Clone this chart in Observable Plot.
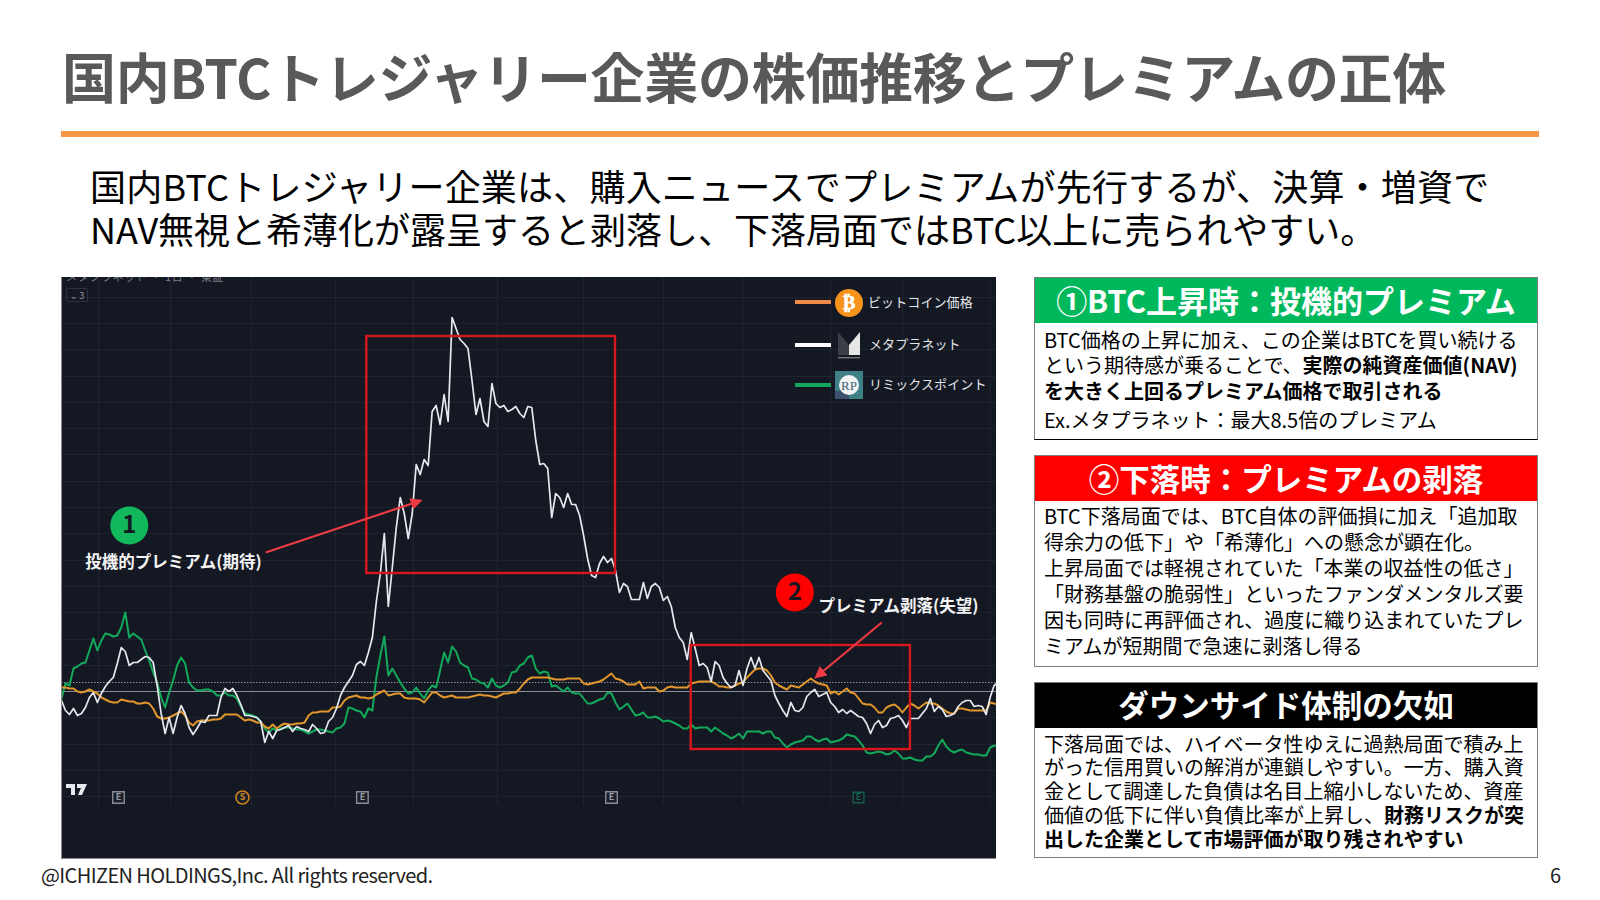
<!DOCTYPE html>
<html lang="ja"><head><meta charset="utf-8">
<script src="https://cdn.jsdelivr.net/npm/d3@7"></script>
<script src="https://cdn.jsdelivr.net/npm/@observablehq/plot@0.6"></script>
<style>
html,body{margin:0;padding:0;background:#fff}
body{width:1600px;height:900px;position:relative;overflow:hidden;font-family:"Noto Sans CJK JP","Noto Sans",sans-serif;color:#000}
.abs{position:absolute;white-space:nowrap}
#title{left:62px;top:38px;font-size:54px;font-weight:700;color:#595959;line-height:76px;letter-spacing:-.3px}
#rule{left:61px;top:131px;width:1478px;height:6px;background:#f79646}
.lead{left:90px;font-size:36px;line-height:44px;font-weight:400}
#chartwrap{position:absolute;left:61px;top:277px;width:935px;height:582px;border-bottom:1px solid #888;box-sizing:border-box;background:#141823;overflow:hidden}
#chartwrap svg{display:block}
.panel{position:absolute;left:1034px;width:504px;box-sizing:border-box;border:1px solid #7f7f7f;background:#fff;overflow:hidden}
.head{position:absolute;left:-1px;right:-1px;top:-1px;height:46px;color:#fff;font-weight:700;line-height:46px;text-align:center;white-space:nowrap}
.bl{position:absolute;left:9px;font-size:20px;line-height:26px;white-space:nowrap}
.bl b{font-weight:700}
.leg{position:absolute;font-size:13px;color:#e4e6ea;line-height:18px;white-space:nowrap;letter-spacing:.1px}
.sw{position:absolute;height:4px;width:36px}
#foot{left:41px;top:861px;font-size:20px;line-height:28px;color:#222;letter-spacing:-.6px}
#pg{left:1550px;top:861px;font-size:20px;line-height:28px;color:#222}
</style></head>
<body>
<div class="abs" id="title"></div>
<div class="abs" id="rule"></div>
<div class="abs lead" id="l1" style="top:163px;letter-spacing:.2px"></div>
<div class="abs lead" id="l2" style="top:206px"></div>
<div id="chartwrap"></div>
<div id="panels"></div>
<div class="abs" id="foot"></div>
<div class="abs" id="pg"></div>
<script>
const titleText = "国内BTCトレジャリー企業の株価推移とプレミアムの正体";
const leadLines = ["国内BTCトレジャリー企業は、購入ニュースでプレミアムが先行するが、決算・増資で","NAV無視と希薄化が露呈すると剥落し、下落局面ではBTC以上に売られやすい。"];
const footText = "@ICHIZEN HOLDINGS,Inc. All rights reserved.";
const pageNo = "6";

const metaplanet = [-9,-19,-23,-17,-24,-22,-16,-6,-1,-11,-2,5,10,14,28,44,40,26,29,29,32,35,34,29,6,-22,-42,-26,-42,-26,-14,-22,-36,-43,-37,-30,-31,-24,-24,-24,-6,3,0,3,-4,-13,-24,-24,-25,-26,-30,-51,-40,-47,-39,-38,-36,-34,-40,-35,-37,-38,-40,-33,-37,-42,-41,-30,-26,-17,-4,4,10,16,27,30,26,39,54,90,118,158,85,124,164,194,178,153,178,227,217,232,226,280,286,267,297,270,374,363,352,348,343,311,277,293,270,265,308,288,284,286,280,282,285,278,274,285,284,251,227,228,223,174,198,194,184,198,187,187,176,156,133,116,114,128,135,129,133,121,99,108,105,92,92,92,109,93,105,108,104,91,95,85,64,54,49,32,59,43,26,28,24,10,30,26,14,8,4,6,21,6,23,34,23,34,21,16,11,-4,-12,-19,-25,-11,-19,-20,-16,-5,-1,2,-5,-3,-1,-11,-15,-21,-18,-22,-19,-22,-25,-26,-32,-42,-33,-29,-36,-34,-27,-26,-24,-29,-36,-27,-27,-27,-22,-17,-7,-20,-15,-18,-25,-24,-22,-15,-11,-9,-9,-15,-14,-15,-23,-6,6,9];
const bitcoin = [4,4,3,3,0,-1,0,2,0,-2,-6,-8,-10,-11,-11,-8,-9,-10,-10,-12,-12,-11,-12,-17,-25,-27,-27,-26,-24,-22,-20,-24,-31,-34,-30,-29,-29,-29,-28,-28,-27,-23,-23,-23,-23,-26,-29,-28,-29,-31,-31,-35,-37,-33,-37,-34,-32,-33,-33,-32,-32,-31,-24,-21,-21,-20,-20,-20,-16,-16,-15,-9,-6,-5,-4,-6,-6,-7,-6,-3,-1,1,-4,-3,-2,-2,-6,-7,-7,-7,-8,-11,-6,-1,-1,-4,-6,-5,-4,-6,-6,-6,-6,-5,-4,-3,-4,-4,-5,-6,-4,-2,-2,-1,-1,3,8,12,14,14,14,14,14,13,12,12,12,13,13,13,13,8,7,8,9,10,12,15,18,13,12,10,7,7,7,10,3,4,4,4,0,1,4,5,4,4,4,4,8,9,10,10,10,10,8,5,5,4,4,6,8,9,14,18,22,23,23,21,16,9,6,4,2,6,5,4,7,10,13,10,8,7,6,-2,0,-3,0,3,-1,-2,-7,-12,-13,-13,-16,-21,-21,-16,-14,-13,-16,-21,-16,-12,-14,-17,-14,-11,-12,-12,-14,-17,-20,-22,-22,-17,-17,-18,-19,-19,-19,-19,-19,-11,-12,-13];
const remixpoint = [-7,8,6,23,25,28,29,41,53,41,51,58,57,55,56,64,79,54,58,55,52,41,31,19,9,-6,-16,-1,11,26,34,28,9,4,1,1,2,2,0,-4,-4,-1,-4,-4,-7,-15,-22,-23,-24,-26,-30,-37,-41,-37,-39,-37,-36,-36,-37,-38,-38,-40,-42,-40,-38,-38,-39,-40,-41,-37,-36,-32,-16,-17,-19,-20,-26,-17,-19,14,36,55,16,23,16,9,3,-2,-1,4,-2,-7,1,6,4,21,39,29,45,40,29,26,24,13,12,9,8,4,13,6,4,6,9,19,20,26,28,34,36,23,18,20,19,5,6,3,0,4,-1,-2,-2,-7,-12,-12,-10,-8,-7,-1,-2,-11,-18,-15,-12,-18,-24,-23,-21,-26,-26,-25,-27,-30,-29,-30,-32,-34,-37,-37,-33,-37,-36,-36,-36,-40,-36,-39,-42,-44,-47,-45,-42,-47,-40,-40,-40,-40,-42,-40,-40,-46,-47,-52,-56,-53,-51,-50,-49,-45,-45,-48,-50,-48,-47,-51,-50,-49,-47,-43,-44,-45,-49,-54,-61,-62,-61,-60,-61,-63,-62,-59,-62,-67,-67,-66,-68,-69,-69,-65,-65,-62,-54,-48,-55,-59,-61,-59,-58,-61,-62,-63,-63,-64,-64,-56,-54,-55];

const gridXs = [9.3,27.4,47.7,68.8,88.3,109.4,131,151,171,193,211,233];
const gridYs = [394,368,342,315,289,263,237,210,184,158,131,105,79,52,26,-26,-53,-79,-105];
const premiumBoxes = [{x1:76.6,x2:139,y1:355,y2:118},{x1:158,x2:213,y1:46,y2:-58}];
const callArrows = [{x1:51.2,y1:139,x2:88,y2:188},{x1:205.8,y1:69,x2:191,y2:20}];
const badges = [{x:17,y:166,c:"#12b85c",t:"1"},{x:184,y:99,c:"#ff0000",t:"2"}];
const callouts = [{x:28.1,y:129,t:"投機的プレミアム(期待)"},{x:210,y:85,t:"プレミアム剥落(失望)"}];
const earnE = [14.3,75.5,138];
const splitS = [45.4];
const earnGreen = [200];
const markerY = -106;
const baseY = 0, prevCloseY = 9;

const panelSpecs = [
 {top:277,h:163,c:"#00b85c",fs:31,bb:"#000",hs:0,title:"①BTC上昇時：投機的プレミアム",tops:[49,74,100,129],lines:["BTC価格の上昇に加え、この企業はBTCを買い続ける","という期待感が乗ることで、<b>実際の純資産価値(NAV)</b>","<b>を大きく上回るプレミアム価格で取引される</b>","Ex.メタプラネット：最大8.5倍のプレミアム"]},
 {top:455,h:212,c:"#ff0000",fs:30.5,bb:"#7f7f7f",hs:0,title:"②下落時：プレミアムの剥落",tops:[47,73,99,125,151,177],lines:["BTC下落局面では、BTC自体の評価損に加え「追加取","得余力の低下」や「希薄化」への懸念が顕在化。","上昇局面では軽視されていた「本業の収益性の低さ」","「財務基盤の脆弱性」といったファンダメンタルズ要","因も同時に再評価され、過度に織り込まれていたプレ","ミアムが短期間で急速に剥落し得る"]},
 {top:682,h:176,c:"#000000",fs:30.5,bb:"#7f7f7f",hs:-1,title:"ダウンサイド体制の欠如",tops:[48,71,95,119,143],lines:["下落局面では、ハイベータ性ゆえに過熱局面で積み上","がった信用買いの解消が連鎖しやすい。一方、購入資","金として調達した負債は名目上縮小しないため、資産","価値の低下に伴い負債比率が上昇し、<b>財務リスクが突</b>","<b>出した企業として市場評価が取り残されやすい</b>"]}
];

document.getElementById("title").textContent = titleText;
document.getElementById("l1").textContent = leadLines[0];
document.getElementById("l2").textContent = leadLines[1];
document.getElementById("foot").textContent = footText;
document.getElementById("pg").textContent = pageNo;

const pan = document.getElementById("panels");
for (const p of panelSpecs) {
  const d = document.createElement("div");
  d.className = "panel";
  d.style.top = p.top + "px";
  d.style.height = p.h + "px";
  d.style.borderBottomColor = p.bb;
  let h = `<div class="head" style="background:${p.c};font-size:${p.fs}px;line-height:${46 + 2 * p.hs}px">${p.title}</div>`;
  p.lines.forEach((l, i) => { h += `<div class="bl" style="top:${p.tops[i]}px">${l}</div>`; });
  d.innerHTML = h;
  pan.appendChild(d);
}

const jp = '"Noto Sans CJK JP","Noto Sans",sans-serif';
const idx = a => a.map((v, i) => ({i, v}));
/* filled triangular arrow head for the two call-outs */
function solidHead(color, context) {
  const doc = context.document;
  const m = doc.createElementNS("http://www.w3.org/2000/svg", "marker");
  m.setAttribute("viewBox", "0 0 10 10");
  m.setAttribute("refX", "1");
  m.setAttribute("refY", "5");
  m.setAttribute("markerWidth", "5.5");
  m.setAttribute("markerHeight", "5.5");
  m.setAttribute("orient", "auto");
  m.setAttribute("markerUnits", "strokeWidth");
  const p = doc.createElementNS("http://www.w3.org/2000/svg", "path");
  p.setAttribute("d", "M0 0L10 5L0 10Z");
  p.setAttribute("fill", color);
  p.setAttribute("stroke", "none");
  m.appendChild(p);
  return m;
}
const chart = Plot.plot({
  width: 935, height: 580,
  margin: 0, marginTop: 0, marginRight: 0, marginBottom: 0, marginLeft: 0,
  style: {background: "#141823", fontFamily: jp, overflow: "hidden"},
  x: {domain: [0, 234.6], range: [0, 935], axis: null},
  y: {domain: [-166, 414], range: [580, 0], axis: null},
  marks: [
    Plot.ruleX(gridXs, {y1: -114, y2: 414, stroke: "#212633", strokeWidth: 1}),
    Plot.ruleY(gridYs, {x1: 0, x2: 234.6, stroke: "#1e2330", strokeWidth: 1}),
    Plot.ruleY([prevCloseY], {stroke: "#8c8f96", strokeWidth: 1.2, strokeDasharray: "1.5,1.5"}),
    Plot.ruleY([baseY], {stroke: "#8a8d94", strokeWidth: 1.2}),
    Plot.lineY(idx(remixpoint), {x: "i", y: "v", stroke: "#12a95b", strokeWidth: 2, curve: "linear", clip: true}),
    Plot.lineY(idx(bitcoin), {x: "i", y: "v", stroke: "#e2962c", strokeWidth: 2, curve: "linear", clip: true}),
    Plot.lineY(idx(metaplanet), {x: "i", y: "v", stroke: "#e6e8ee", strokeWidth: 1.7, curve: "linear", clip: true}),
    Plot.dot(earnE, {x: d => d, y: markerY, symbol: "square", r: 6.5, stroke: "#8a8d94", strokeWidth: 1.4, fill: "#1b1f2b"}),
    Plot.text(earnE, {x: d => d, y: markerY, text: () => "E", fill: "#9a9da4", fontSize: 9, fontWeight: 700}),
    Plot.dot(splitS, {x: d => d, y: markerY, r: 6.5, stroke: "#c9841f", strokeWidth: 1.6, fill: "#1b1f2b"}),
    Plot.text(splitS, {x: d => d, y: markerY, text: () => "S", fill: "#c9841f", fontSize: 9, fontWeight: 700}),
    Plot.dot(earnGreen, {x: d => d, y: markerY, symbol: "square", r: 6, stroke: "#14604a", strokeWidth: 1.4, fill: "#141823"}),
    Plot.text(earnGreen, {x: d => d, y: markerY, text: () => "E", fill: "#14604a", fontSize: 9, fontWeight: 700}),
    Plot.rect(premiumBoxes, {x1: "x1", x2: "x2", y1: "y1", y2: "y2", fill: "none", stroke: "#d8171d", strokeWidth: 2.4}),
    Plot.link(callArrows, {x1: "x1", y1: "y1", x2: "x2", y2: "y2", stroke: "#ee3a43", strokeWidth: 2.2, markerEnd: solidHead}),
    Plot.dot(badges, {x: "x", y: "y", r: 19, fill: "c"}),
    Plot.text(badges, {x: "x", y: "y", text: "t", fontSize: 24, fontWeight: 700, fill: "#141823"}),
    Plot.text(callouts, {x: "x", y: "y", text: "t", fontSize: 16.5, fontWeight: 700, fill: "#f4f4f4"})
  ]
});
const wrap = document.getElementById("chartwrap");
wrap.appendChild(chart);

/* overlay: legend and small chart furniture */
const ov = document.createElement("div");
ov.innerHTML = `
<div style="position:absolute;left:0;top:0;width:1px;height:581px;background:#888"></div>
<div class="sw" style="left:734px;top:23px;background:#f08a4b"></div>
<div class="sw" style="left:734px;top:66px;background:#fff"></div>
<div class="sw" style="left:734px;top:106px;background:#12a85c"></div>
<svg style="position:absolute;left:773px;top:11px" width="30" height="30"><circle cx="15" cy="15" r="14" fill="#f7931a"/><text x="15" y="21" text-anchor="middle" font-size="19" font-weight="700" fill="#fff" stroke="#fff" stroke-width=".5" font-family='"DejaVu Sans"'>₿</text></svg>
<svg style="position:absolute;left:774px;top:54px" width="28" height="30"><path d="M3 1 L14 14 L14 24 L3 24Z" fill="#3a3e46"/><path d="M14 14 L25 1 L25 24 L14 24Z" fill="#e6e6e6"/><rect x="3" y="26" width="22" height="1.4" fill="#777"/></svg>
<svg style="position:absolute;left:774px;top:94px" width="28" height="28"><rect width="28" height="28" fill="#3f7f86"/><rect y="20" width="14" height="8" fill="#3c4f6c"/><circle cx="14" cy="14" r="10" fill="#f2f4f4"/><text x="14" y="19" text-anchor="middle" font-size="13" font-family='"Liberation Serif"' fill="#3d5f78">RP</text></svg>
<div class="leg" style="left:807px;top:16px">ビットコイン価格</div>
<div class="leg" style="left:808px;top:58px">メタプラネット</div>
<div class="leg" style="left:808px;top:98px">リミックスポイント</div>
<div style="position:absolute;left:5px;top:11px;width:20px;height:12px;border:1px solid #2d3240;border-radius:2px;color:#9a9da4;font-size:8.5px;line-height:12px;text-align:center">⌄ 3</div>
<div style="position:absolute;left:5px;top:-8px;color:#7d8089;font-size:11px;line-height:14px;white-space:nowrap;letter-spacing:.6px">メタプラネット ・ 1日 ・ 東証</div>
<svg style="position:absolute;left:5px;top:507px" width="22" height="12"><path d="M0 0H9V11H5V4H0Z M11 0H21L16 11H12L15 4H11Z" fill="#e8e9ec"/></svg>`;
ov.style.position = "absolute"; ov.style.left = "0"; ov.style.top = "0";
wrap.appendChild(ov);
</script>
</body></html>
